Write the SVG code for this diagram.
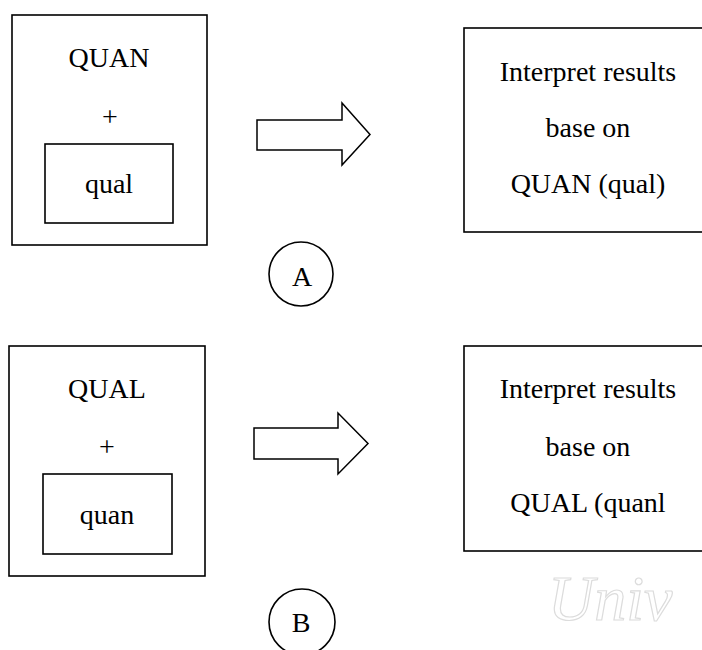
<svg xmlns="http://www.w3.org/2000/svg" width="702" height="650" viewBox="0 0 702 650">
<style>
.box{fill:none;stroke:#000;stroke-width:1.6}
.arr{fill:#fff;stroke:#000;stroke-width:1.5;stroke-linejoin:miter}
.t{font-family:"Liberation Serif","Times New Roman",serif;font-size:28px;fill:#000;text-anchor:middle}
.wm{font-family:"Liberation Serif",serif;font-style:italic;font-size:64px;fill:none;stroke:#dcdcdc;stroke-width:1.2}
</style>
<rect width="702" height="650" fill="#fff"/>
<text class="wm" x="548" y="620">Univ</text>
<g id="nodeA-left">
<rect class="box" x="12" y="15" width="195" height="230"/>
<text class="t" x="109" y="67">QUAN</text>
<text class="t" x="110" y="126">+</text>
<rect class="box" x="45" y="144" width="128" height="79"/>
<text class="t" x="109" y="193">qual</text>
</g>
<g id="nodeA-right">
<rect class="box" x="464" y="28" width="250" height="204"/>
<text class="t" x="588" y="81">Interpret results</text>
<text class="t" x="588" y="137">base on</text>
<text class="t" x="588" y="193">QUAN (qual)</text>
</g>
<g id="labelA">
<circle class="box" cx="301" cy="274" r="32"/>
<text class="t" x="302" y="286">A</text>
</g>
<g id="nodeB-left">
<rect class="box" x="9" y="346" width="196" height="230"/>
<text class="t" x="107" y="398">QUAL</text>
<text class="t" x="107" y="456">+</text>
<rect class="box" x="43" y="474" width="129" height="80"/>
<text class="t" x="107" y="524">quan</text>
</g>
<g id="nodeB-right">
<rect class="box" x="464" y="346" width="250" height="205"/>
<text class="t" x="588" y="398">Interpret results</text>
<text class="t" x="588" y="456">base on</text>
<text class="t" x="588" y="512">QUAL (quanl</text>
</g>
<g id="labelB">
<circle class="box" cx="302" cy="622" r="33"/>
<text class="t" x="301" y="632">B</text>
</g>
<g id="connectors">
<path class="arr" d="M257 120 H342 V103 L370 134.5 L342 165 V150 H257 Z"/>
<path class="arr" d="M254 428 H338 V413 L368 443.5 L338 474 V459 H254 Z"/>
</g>
</svg>
